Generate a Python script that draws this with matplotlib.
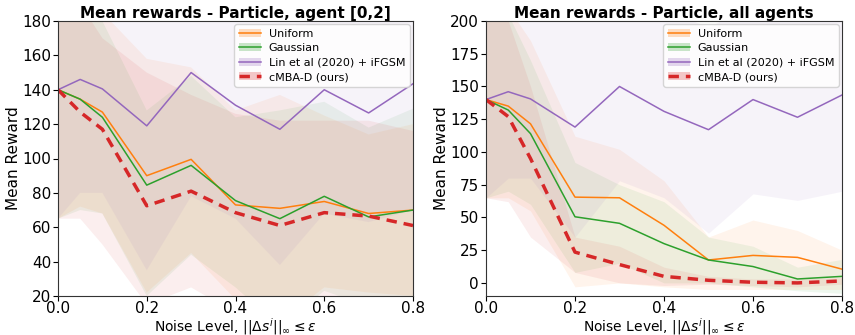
import numpy as np
import matplotlib.pyplot as plt
from matplotlib.patches import Patch

noise = [0.0, 0.05, 0.1, 0.2, 0.3, 0.4, 0.5, 0.6, 0.7, 0.8]
labels = ['Uniform', 'Gaussian', 'Lin et al (2020) + iFGSM', 'cMBA-D (ours)']
colors = ['tab:orange', 'tab:green', 'tab:purple', 'tab:red']

# left panel: agent [0,2]
left_uniform = [140, 134.5, 127, 90, 99.5, 73, 71, 75, 68, 70]
left_gauss = [140, 134.5, 124, 84.5, 96, 75.5, 65, 78, 66, 70]
left_lin = [140, 146, 140.5, 119, 150, 131, 117, 140, 126.5, 143.5]
left_ours = [140, 127, 117, 72.5, 81, 68.5, 61, 68.5, 66.5, 61]

left_uniform_hi = [200, 200, 185, 158, 153, 128, 137, 125, 114, 120]
left_uniform_lo = [65, 72, 68, 22, 45, 18, 5, 25, 22, 20]
left_gauss_hi = [215, 200, 180, 128, 148, 124, 128, 133, 118, 129]
left_gauss_lo = [65, 70, 68, 20, 44, 25, 2, 23, 14, 11]
lin_hi = [215, 225, 220, 200, 230, 210, 195, 215, 205, 225]
lin_lo = [65, 80, 80, 35, 78, 65, 38, 68, 63, 70]
left_ours_hi = [215, 190, 170, 150, 137, 126, 122, 122, 122, 116]
left_ours_lo = [65, 65, 50, 15, 25, 10, 0, 15, 12, 6]

# right panel: all agents
right_uniform = [140, 135, 121.5, 65.5, 65, 44, 17.5, 21, 19.5, 10.5]
right_gauss = [140, 132, 114, 50.5, 45.5, 30, 17.5, 12.5, 3, 5]
right_lin = left_lin
right_ours = [140, 127, 95, 23.5, 14, 5, 2, 0.5, 0, 1.5]

right_uniform_hi = [215, 210, 185, 112, 102, 78, 35, 48, 40, 25]
right_uniform_lo = [65, 65, 55, -3, 0, -3, -5, -5, -5, -5]
right_gauss_hi = [215, 205, 170, 92, 75, 62, 35, 28, 12, 18]
right_gauss_lo = [65, 70, 60, 8, 15, 0, 0, -3, -6, -8]
right_ours_hi = [200, 200, 150, 35, 28, 12, 5, 3, 3, 4]
right_ours_lo = [65, 62, 35, 8, 0, -2, -1, -2, -3, -1]

fig = plt.figure(figsize=(8.55, 3.35), dpi=100)
ax1 = fig.add_axes([58 / 855, 39 / 335, 355 / 855, 275 / 335])
ax2 = fig.add_axes([486 / 855, 39 / 335, 356 / 855, 275 / 335])

panels = [
    (ax1, 'Mean rewards - Particle, agent [0,2]',
     [left_uniform, left_gauss, left_lin, left_ours],
     [(left_uniform_lo, left_uniform_hi), (left_gauss_lo, left_gauss_hi),
      (lin_lo, lin_hi), (left_ours_lo, left_ours_hi)],
     (20, 180), [20, 40, 60, 80, 100, 120, 140, 160, 180]),
    (ax2, 'Mean rewards - Particle, all agents',
     [right_uniform, right_gauss, right_lin, right_ours],
     [(right_uniform_lo, right_uniform_hi), (right_gauss_lo, right_gauss_hi),
      (lin_lo, lin_hi), (right_ours_lo, right_ours_hi)],
     (-10, 200), [0, 25, 50, 75, 100, 125, 150, 175, 200]),
]

for ax, title, series, bands, ylim, yticks in panels:
    handles = []
    for i in range(4):
        lo, hi = bands[i]
        ax.fill_between(noise, lo, hi, color=colors[i], alpha=0.08, linewidth=0)
        if i == 3:
            ln, = ax.plot(noise, series[i], color=colors[i], lw=2.5, ls=(0, (3, 2)))
        else:
            ln, = ax.plot(noise, series[i], color=colors[i], lw=1.1)
        handles.append((Patch(color=colors[i], alpha=0.25, lw=0), ln))
    ax.set_xlim(0, 0.8)
    ax.set_ylim(*ylim)
    ax.set_yticks(yticks)
    ax.set_xticks([0.0, 0.2, 0.4, 0.6, 0.8])
    ax.tick_params(labelsize=11, length=3.5)
    ax.tick_params(axis='x', pad=0)
    ax.tick_params(axis='y', pad=1.5)
    ax.set_title(title, fontsize=11, fontweight='bold', pad=1)
    ax.set_xlabel(r'Noise Level, $||\Delta s^i||_\infty \leq \epsilon$', fontsize=10, va='top')
    ax.xaxis.set_label_coords(0.5, -0.072, transform=ax.transAxes)
    ax.set_ylabel('Mean Reward', fontsize=11, labelpad=1)
    for sp in ax.spines.values():
        sp.set_color('#333333')
    ax.legend(handles, labels, loc='upper right', fontsize=8, handlelength=2.0,
              borderaxespad=0.3, labelspacing=0.4, handletextpad=0.7)

plt.savefig('out.png')
